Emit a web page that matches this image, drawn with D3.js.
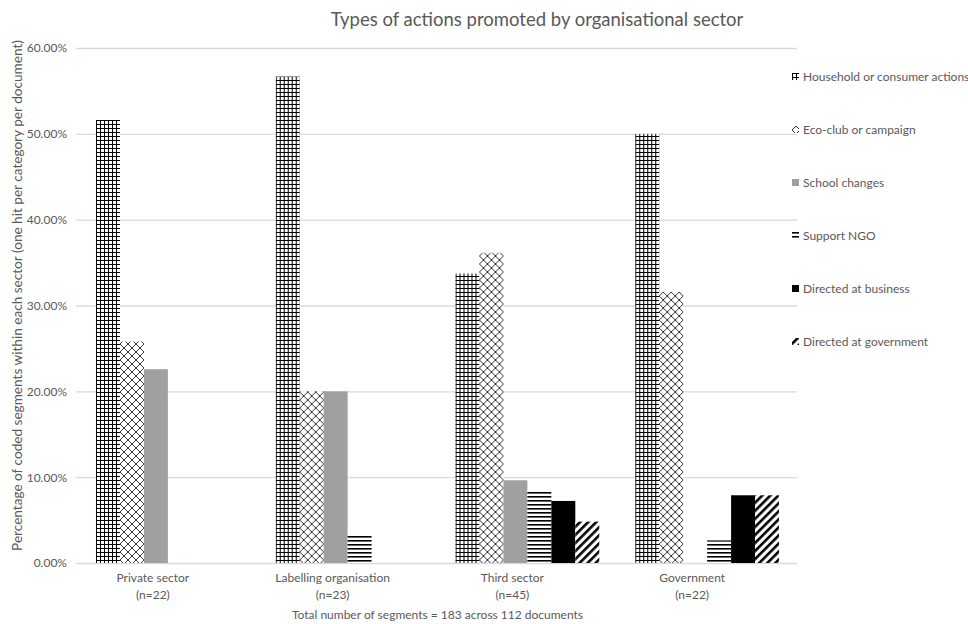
<!DOCTYPE html>
<html>
<head>
<meta charset="utf-8">
<script src="https://cdn.jsdelivr.net/npm/d3@7"></script>
<style>
  html, body { margin: 0; padding: 0; background: #fff; }
  svg { display: block; font-family: Lato, "Liberation Sans", sans-serif; }
</style>
</head>
<body>
<svg id="chart" width="968" height="624"></svg>
<script>
// Organisational sectors and their document counts
const sectors = ["Private sector", "Labelling organisation", "Third sector", "Government"];
const sectorCounts = ["(n=22)", "(n=23)", "(n=45)", "(n=22)"];

// Action types (legend order)
const actionTypes = [
  "Household or consumer actions",
  "Eco-club or campaign",
  "School changes",
  "Support NGO",
  "Directed at business",
  "Directed at government"
];

// Share of coded segments per sector, one array per action type
const household   = [0.5161, 0.5667, 0.3373, 0.5000];
const ecoClub     = [0.2581, 0.2000, 0.3614, 0.3158];
const school      = [0.2258, 0.2000, 0.0964, 0.0000];
const supportNgo  = [0.0000, 0.0333, 0.0843, 0.0263];
const business    = [0.0000, 0.0000, 0.0723, 0.0789];
const government  = [0.0000, 0.0000, 0.0482, 0.0789];

const yTicks = [0, 0.1, 0.2, 0.3, 0.4, 0.5, 0.6];

const chartTitle = "Types of actions promoted by organisational sector";
const yTitle = "Percentage of coded segments within each sector (one hit per category per document)";
const xTitle = "Total number of segments = 183 across 112 documents";

const seriesValues = [household, ecoClub, school, supportNgo, business, government];
const rows = sectors.map((s, i) => ({
  sector: s,
  values: actionTypes.map((a, k) => ({ key: a, value: seriesValues[k][i] }))
}));

const svg = d3.select("#chart");
const textColor = "#595959";
const gridColor = "#d9d9d9";

const plot = { left: 78, right: 797, top: 48, bottom: 563 };

// Fill patterns for each action type
const defs = svg.append("defs");

const pGrid = defs.append("pattern").attr("id", "pat-grid")
  .attr("patternUnits", "userSpaceOnUse").attr("width", 4).attr("height", 4);
pGrid.append("rect").attr("width", 4).attr("height", 4).attr("fill", "#fff");
pGrid.append("path").attr("d", "M0.5,0V4M0,0.5H4").attr("stroke", "#000").attr("stroke-width", 1.1);

const pCross = defs.append("pattern").attr("id", "pat-cross")
  .attr("patternUnits", "userSpaceOnUse").attr("width", 8).attr("height", 8);
pCross.append("rect").attr("width", 8).attr("height", 8).attr("fill", "#fff");
pCross.append("path").attr("d", "M0,0L8,8M8,0L0,8").attr("stroke", "#333").attr("stroke-width", 1);

const pHorz = defs.append("pattern").attr("id", "pat-horz")
  .attr("patternUnits", "userSpaceOnUse").attr("width", 4).attr("height", 4);
pHorz.append("rect").attr("width", 4).attr("height", 4).attr("fill", "#fff");
pHorz.append("rect").attr("width", 4).attr("height", 1.6).attr("fill", "#000");

const pDiag = defs.append("pattern").attr("id", "pat-diag")
  .attr("patternUnits", "userSpaceOnUse").attr("width", 5.7).attr("height", 5.7)
  .attr("patternTransform", "rotate(45)");
pDiag.append("rect").attr("width", 5.7).attr("height", 5.7).attr("fill", "#fff");
pDiag.append("rect").attr("width", 2.6).attr("height", 5.7).attr("fill", "#000");

const fills = {
  "Household or consumer actions": "url(#pat-grid)",
  "Eco-club or campaign": "url(#pat-cross)",
  "School changes": "#a0a0a0",
  "Support NGO": "url(#pat-horz)",
  "Directed at business": "#000",
  "Directed at government": "url(#pat-diag)"
};

// Scales
const x0 = d3.scaleBand().domain(sectors).range([plot.left, plot.right])
  .paddingInner(0.2).paddingOuter(0.1);
const x1 = d3.scaleBand().domain(actionTypes).range([0, x0.bandwidth()]).padding(0);
const y = d3.scaleLinear().domain([0, 0.6]).range([plot.bottom, plot.top]);

// Gridlines and y-axis labels
const yAxis = d3.axisLeft(y).tickValues(yTicks).tickFormat(d3.format(".2%"))
  .tickSize(-(plot.right - plot.left + 2)).tickPadding(9);
const gy = svg.append("g").attr("transform", `translate(${plot.left - 2},0)`).call(yAxis);
gy.select(".domain").remove();
gy.selectAll(".tick line").attr("stroke", gridColor).attr("stroke-width", 1.3);
gy.selectAll(".tick text").attr("fill", textColor).attr("font-size", 12)
  .attr("font-family", "Lato, sans-serif");

// Bars
const groups = svg.append("g").selectAll("g").data(rows).join("g")
  .attr("transform", d => `translate(${x0(d.sector)},0)`);
groups.selectAll("rect").data(d => d.values.filter(v => v.value > 0)).join("rect")
  .attr("x", d => x1(d.key))
  .attr("width", x1.bandwidth())
  .attr("y", d => y(d.value))
  .attr("height", d => y(0) - y(d.value))
  .attr("fill", d => fills[d.key]);

// Category labels (two lines), set slightly left of each cluster's centre
const labelX = d => x0(d) + x0.bandwidth() / 2 - 15;
const xl = svg.append("g").selectAll("text").data(sectors).join("text")
  .attr("x", labelX)
  .attr("y", 582)
  .attr("text-anchor", "middle")
  .attr("fill", textColor)
  .attr("font-size", 12);
xl.append("tspan").text(d => d);
xl.append("tspan").attr("x", labelX).attr("dy", 17)
  .text((d, i) => sectorCounts[i]);

// Axis titles
svg.append("text").attr("x", (plot.left + plot.right) / 2).attr("y", 619)
  .attr("text-anchor", "middle").attr("fill", textColor).attr("font-size", 12)
  .text(xTitle);

svg.append("text")
  .attr("transform", `translate(22,${(plot.top + plot.bottom) / 2 - 10}) rotate(-90)`)
  .attr("text-anchor", "middle").attr("fill", textColor).attr("font-size", 13.6)
  .text(yTitle);

// Chart title
svg.append("text").attr("x", 537).attr("y", 26)
  .attr("text-anchor", "middle").attr("fill", textColor).attr("font-size", 18.5)
  .text(chartTitle);

// Legend
const legend = svg.append("g").selectAll("g").data(actionTypes).join("g")
  .attr("transform", (d, i) => `translate(792,${77 + i * 53})`);
legend.append("rect").attr("x", 0).attr("y", -4).attr("width", 7).attr("height", 7)
  .attr("fill", d => fills[d]);
legend.append("text").attr("x", 11).attr("y", 4).attr("fill", textColor)
  .attr("font-size", 12).text(d => d);
</script>
</body>
</html>
